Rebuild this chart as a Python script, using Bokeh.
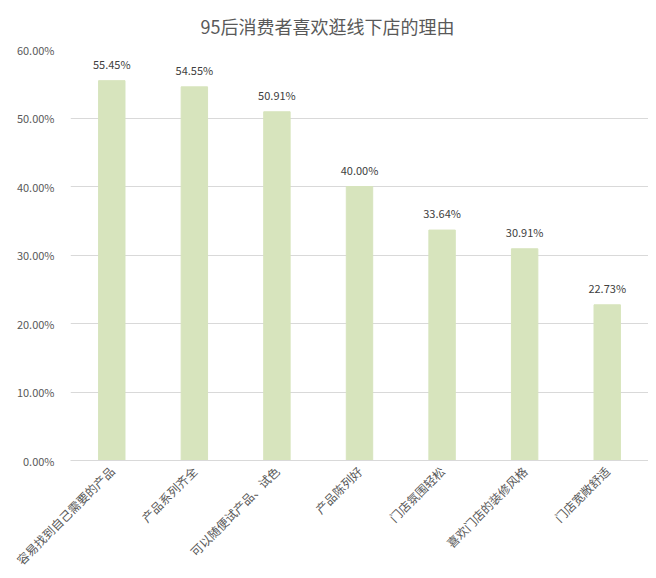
from bokeh.plotting import figure
from bokeh.models import ColumnDataSource, FixedTicker, NumeralTickFormatter, Title
from bokeh.core.properties import value
from bokeh.embed import file_html
from bokeh.resources import INLINE
import math

reasons = ["容易找到自己需要的产品", "产品系列齐全", "可以随便试产品、试色", "产品陈列好",
           "门店氛围轻松", "喜欢门店的装修风格", "门店宽敞舒适"]
shares = [0.5545, 0.5455, 0.5091, 0.4000, 0.3364, 0.3091, 0.2273]
share_labels = ["55.45%", "54.55%", "50.91%", "40.00%", "33.64%", "30.91%", "22.73%"]

font = "Noto Sans CJK SC"
grey = "#595959"

src = ColumnDataSource(data=dict(reason=reasons, share=shares, lab=share_labels))

p = figure(x_range=reasons, y_range=(0, 0.6), width=648, height=576,
           output_backend="svg", toolbar_location=None,
           min_border_left=70, min_border_right=0, min_border_top=0, min_border_bottom=10)
p.title = Title(text="95后消费者喜欢逛线下店的理由", align="left", offset=130,
                text_font=font, text_font_size="18px", text_color=grey,
                text_font_style="normal", standoff=21)
p.outline_line_color = None

p.vbar(x="reason", top="share", width=0.32, source=src, color="#d7e4bd")
p.text(x="reason", y="share", text="lab", source=src, y_offset=-9,
       text_align="center", text_baseline="bottom", text_font=value(font),
       text_font_size="11px", text_color="#404040")

p.yaxis.ticker = FixedTicker(ticks=[0, 0.1, 0.2, 0.3, 0.4, 0.5, 0.6])
p.yaxis.formatter = NumeralTickFormatter(format="0.00%")
p.yaxis.axis_line_color = None
p.yaxis.major_tick_line_color = None
p.yaxis.minor_tick_line_color = None
p.yaxis.major_label_text_font = font
p.yaxis.major_label_text_font_size = "11px"
p.yaxis.major_label_text_color = grey
p.yaxis.major_label_standoff = 10

p.xaxis.axis_line_color = "#d9d9d9"
p.xaxis.major_tick_line_color = None
p.xaxis.major_tick_out = 0
p.xaxis.major_tick_in = 0
p.xaxis.major_label_orientation = math.pi / 4
p.xaxis.major_label_text_font = font
p.xaxis.major_label_text_font_size = "12px"
p.xaxis.major_label_text_line_height = 0.2
p.xaxis.major_label_text_color = grey
p.xaxis.major_label_standoff = 8

p.xgrid.grid_line_color = None
p.ygrid.grid_line_color = "#d9d9d9"

open("out.html", "w").write(file_html(p, INLINE))
